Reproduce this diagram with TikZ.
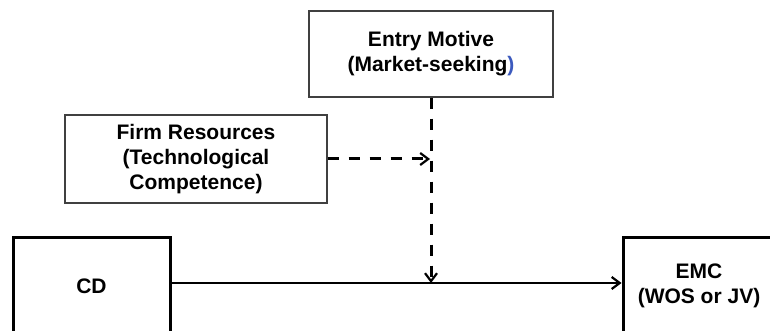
\documentclass[tikz,border=0pt]{standalone}
\usepackage{fontspec}
\setmainfont{Liberation Sans}
\usetikzlibrary{arrows.meta}
\definecolor{parblue}{RGB}{60,90,190}
\begin{document}
\begin{tikzpicture}[x=1pt,y=-1pt,
  boxtext/.style={align=center, font=\bfseries\fontsize{21}{25}\selectfont, inner sep=0pt, fill=white},
  thinbox/.style={boxtext, draw=black!75, line width=1.4pt},
  thickbox/.style={boxtext, draw=black, line width=3pt},
  solidarrow/.style={draw=black, line width=2.4pt, -{Straight Barb[length=8pt,width=12pt,line width=2.2pt]}},
  dasharrow/.style={draw=black, line width=3pt, dash pattern=on 11pt off 10pt, -{Straight Barb[length=8pt,width=12pt,line width=2.2pt]}}
]
\useasboundingbox (0,0) rectangle (770,331);
\clip (0,0) rectangle (770,331);
\fill[white] (0,0) rectangle (770,331);

\node[thinbox, minimum width=244pt, minimum height=86pt] (em) at (431,54) {Entry Motive\\(Market-seeking\textcolor{parblue}{)}};
\node[thinbox, minimum width=262pt, minimum height=88pt] (fr) at (196,159) {Firm Resources\\(Technological\\Competence)};
\node[thickbox, minimum width=157pt, minimum height=98pt] (cd) at (91.5,286) {CD};
\node[thickbox, minimum width=152pt, minimum height=98pt] (emc) at (699,286) {EMC\\(WOS or JV)};

\coordinate (a) at ([yshift=3pt]cd.east);
\coordinate (b) at ([yshift=3pt]emc.west);
\coordinate (j) at (em.south |- a);
\coordinate (k) at (em.south |- fr.east);

\draw[solidarrow] (a) -- (b);
\draw[dasharrow] (em.south) -- (j);
\draw[dasharrow, shorten >=1pt] (fr.east) -- (k);
\end{tikzpicture}
\end{document}
